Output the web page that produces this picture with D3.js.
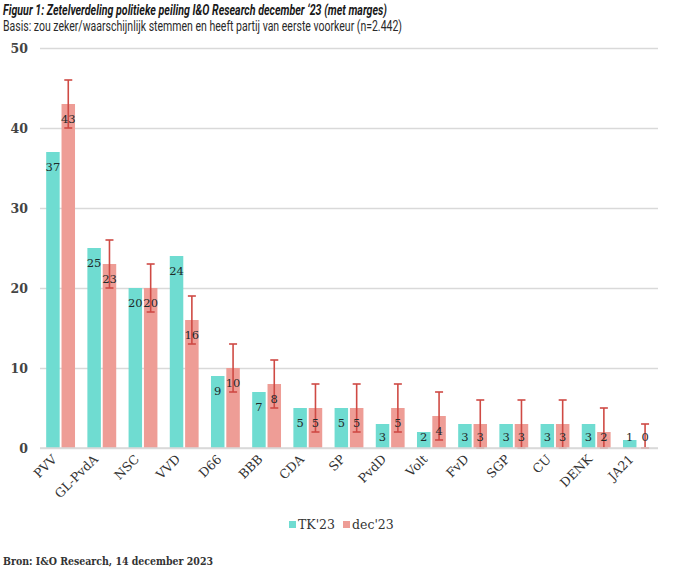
<!DOCTYPE html>
<html><head><meta charset="utf-8">
<script src="https://cdn.jsdelivr.net/npm/d3@7"></script>
<style>body{margin:0;background:#fff}</style>
</head><body>
<svg id="c" width="680" height="573"></svg>
<script>
const parties = ["PVV","GL-PvdA","NSC","VVD","D66","BBB","CDA","SP","PvdD","Volt","FvD","SGP","CU","DENK","JA21"];
const tk23 = [37,25,20,24,9,7,5,5,3,2,3,3,3,3,1];
const dec23 = [43,23,20,16,10,8,5,5,5,4,3,3,3,2,0];
const decLow = [40,20,17,13,7,5,2,2,2,1,0,0,0,0,0];
const decHigh = [46,26,23,19,13,11,8,8,8,7,6,6,6,5,3];
const yTicks = [0,10,20,30,40,50];
const seriesNames = ["TK'23","dec'23"];
const colors = ["#6fdcd1","#ee9d96"];
const errColor = "#cf4a44";

const svg = d3.select("#c");
const serif = "'DejaVu Serif', 'Liberation Serif', serif";
const x0 = d3.scaleBand().domain(parties).range([40,658]).paddingInner(0.3).paddingOuter(0.15);
const x1 = d3.scaleBand().domain([0,1]).range([0,x0.bandwidth()]).paddingInner(0.12);
const y = d3.scaleLinear().domain([0,50]).range([448,48]);

// title
svg.append("text").attr("x",3).attr("y",15).attr("font-family","Roboto, sans-serif")
  .attr("font-size",15).attr("font-weight","bold").attr("font-style","italic").attr("fill","#1a1a1a")
  .attr("textLength",384).attr("lengthAdjust","spacingAndGlyphs")
  .text("Figuur 1: Zetelverdeling politieke peiling I&O Research december ‘23 (met marges)");
svg.append("text").attr("x",3).attr("y",31).attr("font-family","Roboto, sans-serif")
  .attr("font-size",14.5).attr("fill","#2a2a2a")
  .attr("textLength",399).attr("lengthAdjust","spacingAndGlyphs")
  .text("Basis: zou zeker/waarschijnlijk stemmen en heeft partij van eerste voorkeur (n=2.442)");

// grid
const yAxis = d3.axisLeft(y).tickValues(yTicks).tickSize(-(658-40)).tickFormat(d3.format("d"));
const ga = svg.append("g").attr("transform","translate(40,0)").call(yAxis);
ga.select(".domain").remove();
ga.selectAll(".tick line").attr("stroke","#d9d9d9").attr("stroke-width",1.5);
ga.selectAll(".tick text").attr("x",-12).attr("font-family",serif).attr("font-size",12.5)
  .attr("font-weight","bold").attr("fill","#444");

// bars
const g = svg.append("g");
const data = [tk23, dec23];
parties.forEach((p,i)=>{
  [0,1].forEach(s=>{
    const v = data[s][i];
    const bx = x0(p)+x1(s);
    g.append("rect").attr("x",bx).attr("y",y(v)).attr("width",x1.bandwidth())
      .attr("height",y(0)-y(v)).attr("fill",colors[s]);
  });
});
// error bars
parties.forEach((p,i)=>{
  const cx = x0(p)+x1(1)+x1.bandwidth()/2;
  g.append("line").attr("x1",cx).attr("x2",cx).attr("y1",y(decLow[i])).attr("y2",y(decHigh[i]))
    .attr("stroke",errColor).attr("stroke-width",1.6);
  [decLow[i],decHigh[i]].forEach(v=>{
    g.append("line").attr("x1",cx-4).attr("x2",cx+4).attr("y1",y(v)).attr("y2",y(v))
      .attr("stroke",errColor).attr("stroke-width",1.6);
  });
});
// value labels
parties.forEach((p,i)=>{
  [0,1].forEach(s=>{
    const v = data[s][i];
    const cx = x0(p)+x1(s)+x1.bandwidth()/2;
    const cy = Math.min(y(v)+15, 437);
    g.append("text").attr("x",cx).attr("y",cy+4).attr("text-anchor","middle")
      .attr("font-family",serif).attr("font-size",11.5).attr("fill","#1f2a2a").text(v);
  });
});
// baseline
svg.append("line").attr("x1",40).attr("x2",658).attr("y1",y(0)).attr("y2",y(0))
  .attr("stroke","#d9d9d9").attr("stroke-width",1.5);

// x labels
parties.forEach(p=>{
  const cx = x0(p)+x0.bandwidth()/2 - 3;
  svg.append("text").attr("transform",`translate(${cx},460) rotate(-45)`)
    .attr("text-anchor","end").attr("font-family",serif).attr("font-size",12.5).attr("fill","#333").text(p);
});

// legend
const lg = svg.append("g");
const legX = [289, 343];
seriesNames.forEach((n,s)=>{
  lg.append("rect").attr("x",legX[s]).attr("y",521).attr("width",7).attr("height",7).attr("fill",colors[s]);
  lg.append("text").attr("x",legX[s]+9).attr("y",529).attr("font-family",serif).attr("font-size",12.5)
    .attr("fill","#333").text(n);
});

// source
svg.append("text").attr("x",3).attr("y",565).attr("font-family",serif).attr("font-size",11.5)
  .attr("font-weight","bold").attr("fill","#333")
  .attr("textLength",210).attr("lengthAdjust","spacingAndGlyphs")
  .text("Bron: I&O Research, 14 december 2023");
</script>
</body></html>
